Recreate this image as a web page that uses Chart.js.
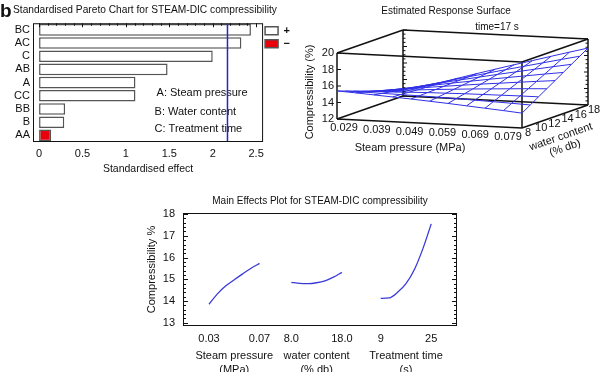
<!DOCTYPE html>
<html>
<head>
<meta charset="utf-8">
<script src="https://cdn.jsdelivr.net/npm/chart.js@4.4.1/dist/chart.umd.min.js"></script>
<style>
  html, body { margin: 0; padding: 0; background: #fff; }
  body { width: 600px; height: 372px; position: relative; overflow: hidden; }
  canvas { position: absolute; }
  #pareto { left: 0; top: 0; width: 300px; height: 178px; }
  #surface { left: 300px; top: 0; width: 300px; height: 172px; }
  #effects { left: 140px; top: 185px; width: 360px; height: 187px; }
</style>
</head>
<body>
<canvas id="pareto" width="300" height="178"></canvas>
<canvas id="surface" width="300" height="172"></canvas>
<canvas id="effects" width="360" height="187"></canvas>
<script>
"use strict";

// ---- Pareto chart data ----
var paretoTerms = ["BC", "AC", "C", "AB", "A", "CC", "BB", "B", "AA"];
var paretoEffects = [2.44, 2.33, 2.0, 1.48, 1.11, 1.11, 0.3, 0.29, 0.14];
var paretoSigns = ["+", "+", "+", "+", "+", "+", "+", "+", "-"];
var paretoTicks = [0, 0.5, 1, 1.5, 2, 2.5];
var criticalEffect = 2.17;
var factorKey = ["A: Steam pressure", "B: Water content", "C: Treatment time"];

// ---- Response surface data (time = 17 s) ----
var pressureGrid = [0.029, 0.034, 0.039, 0.044, 0.049, 0.054, 0.059, 0.064, 0.069, 0.074, 0.079];
var waterGrid = [8, 9.25, 10.5, 11.75, 13, 14.25, 15.5, 16.75, 18];
var surfaceZ = [
    [15.40, 15.28, 15.14, 15.00, 14.86, 14.70, 14.54, 14.36, 14.18, 14.00, 13.80],
    [15.04, 15.02, 14.98, 14.94, 14.90, 14.84, 14.78, 14.70, 14.62, 14.54, 14.44],
    [14.68, 14.76, 14.82, 14.88, 14.94, 14.98, 15.02, 15.04, 15.06, 15.08, 15.08],
    [14.31, 14.49, 14.65, 14.81, 14.97, 15.11, 15.25, 15.37, 15.49, 15.61, 15.71],
    [13.95, 14.23, 14.49, 14.75, 15.01, 15.25, 15.49, 15.71, 15.93, 16.15, 16.35],
    [13.59, 13.97, 14.33, 14.69, 15.05, 15.39, 15.73, 16.05, 16.37, 16.69, 16.99],
    [13.23, 13.71, 14.17, 14.63, 15.09, 15.53, 15.97, 16.39, 16.81, 17.23, 17.63],
    [12.86, 13.44, 14.00, 14.56, 15.12, 15.66, 16.20, 16.72, 17.24, 17.76, 18.26],
    [12.50, 13.18, 13.84, 14.50, 15.16, 15.80, 16.44, 17.06, 17.68, 18.30, 18.90],
];
var pressureTicks = ["0.029", "0.039", "0.049", "0.059", "0.069", "0.079"];
var waterTicks = [8, 10, 12, 14, 16, 18];
var zTicks = [12, 14, 16, 18, 20];

// ---- Main effects data ----
var factorNames = [["Steam pressure", "(MPa)"], ["water content", "(% db)"], ["Treatment time", "(s)"]];
var factorLow = ["0.03", "8.0", "9"];
var factorHigh = ["0.07", "18.0", "25"];
var steamEffect = [13.85, 14.33, 14.70, 14.98, 15.25, 15.51, 15.73];
var waterEffect = [14.86, 14.81, 14.80, 14.84, 14.93, 15.10, 15.32];
var timeEffect = [14.12, 14.14, 14.40, 14.80, 15.45, 16.40, 17.55];
var effectTicks = [13, 14, 15, 16, 17, 18];

var FONT = '"Liberation Sans", Arial, Helvetica, sans-serif';
Chart.defaults.font.family = FONT;
Chart.defaults.color = "#111";
Chart.defaults.animation = false;
Chart.defaults.plugins.tooltip.enabled = false;

// ================= Pareto =================
var paretoDecor = {
    id: "paretoDecor",
    afterDatasetsDraw: function (chart) {
        var ctx = chart.ctx, a = chart.chartArea, x = chart.scales.x;
        ctx.save();
        ctx.strokeStyle = "#111";
        ctx.lineWidth = 1;
        ctx.strokeRect(a.left + 0.5, a.top + 0.5, a.width - 1, a.height - 1);
        ctx.beginPath();
        for (var i = 0; i <= 25; i++) {
            var px = Math.round(x.getPixelForValue(i / 10)) + 0.5;
            ctx.moveTo(px, a.top);
            ctx.lineTo(px, a.top + (i % 5 === 0 ? 4 : 2.5));
        }
        ctx.stroke();

        ctx.fillStyle = "#111";
        ctx.font = "11px " + FONT;
        ctx.textBaseline = "middle";
        var keyX = x.getPixelForValue(1.33);
        var keyY = [70, 89, 106];
        factorKey.forEach(function (t, k) {
            ctx.fillText(t, keyX + (k === 0 ? 2 : 0), a.top + keyY[k]);
        });

        var cx = x.getPixelForValue(criticalEffect);
        ctx.strokeStyle = "#2424d0";
        ctx.lineWidth = 1.5;
        ctx.beginPath();
        ctx.moveTo(cx, a.top + 1);
        ctx.lineTo(cx, a.bottom - 1);
        ctx.stroke();

        ctx.font = "bold 19px " + FONT;
        ctx.textBaseline = "alphabetic";
        ctx.fillText("b", 0, 17);
        ctx.restore();
    },
};

new Chart(document.getElementById("pareto").getContext("2d"), {
    type: "bar",
    data: {
        labels: paretoTerms,
        datasets: [
            {
                label: "+",
                data: paretoEffects.map(function (v, i) { return paretoSigns[i] === "+" ? v : null; }),
                backgroundColor: "#ffffff",
                borderColor: "#555",
                borderWidth: 1.5,
                borderSkipped: false,
                grouped: false,
                barPercentage: 0.88,
                categoryPercentage: 1,
            },
            {
                label: "\u2212",
                data: paretoEffects.map(function (v, i) { return paretoSigns[i] === "-" ? v : null; }),
                backgroundColor: "#e8000b",
                borderColor: "#555",
                borderWidth: 1.5,
                borderSkipped: false,
                grouped: false,
                barPercentage: 0.88,
                categoryPercentage: 1,
            },
        ],
    },
    options: {
        responsive: false,
        indexAxis: "y",
        layout: { padding: { left: 13, right: 0, top: 0, bottom: 0 } },
        scales: {
            x: {
                min: -0.07,
                max: 2.58,
                afterBuildTicks: function (s) { s.ticks = paretoTicks.map(function (v) { return { value: v }; }); },
                afterFit: function (s) { s.height = 36; },
                grid: { display: false, drawTicks: false },
                border: { display: false },
                ticks: {
                    font: { size: 11 },
                    padding: 5,
                    autoSkip: false,
                    maxRotation: 0,
                    callback: function (v) { return String(v); },
                },
                title: { display: true, text: "Standardised effect", font: { size: 10.5 }, padding: { top: 0, bottom: 3 } },
            },
            y: {
                afterFit: function (s) { s.width = 20; },
                grid: { display: false, drawTicks: false },
                border: { display: false },
                ticks: { font: { size: 11 }, padding: 3, autoSkip: false },
            },
        },
        plugins: {
            title: {
                display: true,
                text: "Standardised Pareto Chart for STEAM-DIC compressibility",
                align: "start",
                font: { size: 10.2, weight: "normal" },
                padding: { top: 4, bottom: 7 },
            },
            legend: {
                display: true,
                position: "right",
                align: "start",
                fullSize: false,
                labels: { boxWidth: 13, boxHeight: 8, padding: 2, font: { size: 11, weight: "bold" } },
            },
        },
    },
    plugins: [paretoDecor],
});

// ================= Response surface =================
// oblique projection of (pressure, water, compressibility) onto the canvas plane
function project(p, w, z) {
    var u = (p - 0.029) / 0.05, v = (w - 8) / 10;
    return { x: 37 + 185 * u + 66 * v, y: 119 + 9 * u - 23 * v - (z - 12) * 8.25 };
}

var surfaceSets = [];
waterGrid.forEach(function (w, r) {
    surfaceSets.push(pressureGrid.map(function (p, c) { return project(p, w, surfaceZ[r][c]); }));
});
pressureGrid.forEach(function (p, c) {
    surfaceSets.push(waterGrid.map(function (w, r) { return project(p, w, surfaceZ[r][c]); }));
});

var boxEdges = [];
var pr = [0.029, 0.079], wr = [8, 18], zr = [12, 20];
[0, 1].forEach(function (a) {
    [0, 1].forEach(function (b) {
        boxEdges.push([project(pr[0], wr[a], zr[b]), project(pr[1], wr[a], zr[b])]);
        boxEdges.push([project(pr[a], wr[0], zr[b]), project(pr[a], wr[1], zr[b])]);
        boxEdges.push([project(pr[a], wr[b], zr[0]), project(pr[a], wr[b], zr[1])]);
    });
});

var surfaceDecor = {
    id: "surfaceDecor",
    afterDatasetsDraw: function (chart) {
        var ctx = chart.ctx, sx = chart.scales.x, sy = chart.scales.y;
        function P(p, w, z) {
            var q = project(p, w, z);
            return { x: sx.getPixelForValue(q.x), y: sy.getPixelForValue(q.y) };
        }
        ctx.save();
        ctx.strokeStyle = "#111";
        ctx.lineWidth = 1;
        ctx.beginPath();
        zTicks.forEach(function (z) {
            var q = P(0.029, 8, z);
            ctx.moveTo(q.x, q.y); ctx.lineTo(q.x + 4, q.y);
        });
        for (var k = 0; k <= 16; k++) {
            var z = 12 + k * 0.5, len = k % 4 === 0 ? 4 : 2.5;
            var q1 = P(0.029, 18, z), q2 = P(0.079, 18, z);
            ctx.moveTo(q1.x, q1.y); ctx.lineTo(q1.x + len, q1.y);
            ctx.moveTo(q2.x, q2.y); ctx.lineTo(q2.x - len, q2.y);
        }
        ctx.stroke();

        ctx.fillStyle = "#111";
        ctx.font = "11px " + FONT;
        ctx.textBaseline = "middle";
        ctx.textAlign = "right";
        zTicks.forEach(function (z) {
            var q = P(0.029, 8, z);
            ctx.fillText(String(z), q.x - 3, q.y);
        });
        ctx.textAlign = "center";
        pressureTicks.forEach(function (t, i) {
            var u = i / (pressureTicks.length - 1);
            var q = P(parseFloat(t), 8, 12);
            ctx.fillText(t, q.x + 7 - 21 * u, q.y + 9);
        });
        waterTicks.forEach(function (w) {
            var q = P(0.079, w, 12);
            ctx.fillText(String(w), q.x + 6, q.y + 5);
        });
        ctx.fillText("Steam pressure (MPa)", 110, 148);

        ctx.save();
        ctx.translate(261, 137);
        ctx.rotate(-19 * Math.PI / 180);
        ctx.fillText("water content", 0, 0);
        ctx.restore();
        ctx.save();
        ctx.translate(265, 148);
        ctx.rotate(-19 * Math.PI / 180);
        ctx.fillText("(% db)", 0, 0);
        ctx.restore();
        ctx.save();
        ctx.translate(10, 92);
        ctx.rotate(-Math.PI / 2);
        ctx.fillText("Compressibility (%)", 0, 0);
        ctx.restore();

        ctx.font = "10px " + FONT;
        ctx.fillText("Estimated Response Surface", 146, 11);
        ctx.fillText("time=17 s", 197, 27);
        ctx.restore();
    },
};

var surfaceDatasets = surfaceSets.map(function (pts) {
    return { data: pts, showLine: true, borderColor: "#2f2fe6", borderWidth: 1, pointRadius: 0, fill: false };
});
boxEdges.forEach(function (pts) {
    surfaceDatasets.push({ data: pts, showLine: true, borderColor: "#111", borderWidth: 1.5, pointRadius: 0, fill: false });
});

new Chart(document.getElementById("surface").getContext("2d"), {
    type: "scatter",
    data: { datasets: surfaceDatasets },
    options: {
        responsive: false,
        layout: { padding: 0 },
        scales: {
            x: { type: "linear", display: false, min: 0, max: 300 },
            y: { type: "linear", display: false, min: 0, max: 172, reverse: true },
        },
        plugins: { legend: { display: false } },
    },
    plugins: [surfaceDecor],
});

// ================= Main effects =================
var factorStart = [0, 1.63, 3.4];
var effectSeries = [steamEffect, waterEffect, timeEffect];
var lowHighPos = [], lowHighLabels = [], centerPos = [];
factorStart.forEach(function (s, f) {
    lowHighPos.push(s, s + 1);
    lowHighLabels.push(factorLow[f], factorHigh[f]);
    centerPos.push(s + 0.5);
});

var effectsDecor = {
    id: "effectsDecor",
    afterDatasetsDraw: function (chart) {
        var ctx = chart.ctx, a = chart.chartArea, y = chart.scales.y;
        ctx.save();
        ctx.strokeStyle = "#111";
        ctx.lineWidth = 1;
        ctx.strokeRect(a.left + 0.5, a.top + 0.5, a.width - 1, a.height - 1);
        ctx.beginPath();
        for (var i = 0; i <= 25; i++) {
            var py = Math.round(y.getPixelForValue(13 + i * 0.2)) + 0.5;
            var len = i % 5 === 0 ? 5 : 3;
            ctx.moveTo(a.left, py); ctx.lineTo(a.left + len, py);
            ctx.moveTo(a.right, py); ctx.lineTo(a.right - len, py);
        }
        ctx.stroke();
        ctx.restore();
    },
};

new Chart(document.getElementById("effects").getContext("2d"), {
    type: "scatter",
    data: {
        datasets: effectSeries.map(function (vals, f) {
            return {
                data: vals.map(function (v, i) { return { x: factorStart[f] + i / (vals.length - 1), y: v }; }),
                showLine: true,
                borderColor: "#3a3ad8",
                borderWidth: 1.3,
                pointRadius: 0,
                cubicInterpolationMode: "monotone",
            };
        }),
    },
    options: {
        responsive: false,
        layout: { padding: { left: 0, right: 43, top: 0, bottom: 0 } },
        scales: {
            x: {
                type: "linear",
                position: "bottom",
                weight: 0,
                min: -0.515,
                max: 4.91,
                afterBuildTicks: function (s) { s.ticks = lowHighPos.map(function (v) { return { value: v }; }); },
                afterFit: function (s) { s.height = 20; },
                grid: { display: false, drawTicks: false },
                border: { display: false },
                ticks: {
                    font: { size: 11 },
                    padding: 6,
                    autoSkip: false,
                    maxRotation: 0,
                    callback: function (v, i) { return lowHighLabels[i]; },
                },
            },
            x2: {
                type: "linear",
                position: "bottom",
                weight: 1,
                min: -0.515,
                max: 4.91,
                afterBuildTicks: function (s) { s.ticks = centerPos.map(function (v) { return { value: v }; }); },
                afterFit: function (s) { s.height = 26; },
                grid: { display: false, drawTicks: false },
                border: { display: false },
                ticks: {
                    font: { size: 11, lineHeight: 1.3 },
                    padding: 3,
                    autoSkip: false,
                    maxRotation: 0,
                    callback: function (v, i) { return factorNames[i]; },
                },
            },
            y: {
                min: 12.85,
                max: 18.05,
                afterBuildTicks: function (s) { s.ticks = effectTicks.map(function (v) { return { value: v }; }); },
                afterFit: function (s) { s.width = 43; },
                grid: { display: false, drawTicks: false },
                border: { display: false },
                ticks: { font: { size: 11 }, padding: 8 },
                title: { display: true, text: "Compressibility %", font: { size: 11 }, padding: { top: 5, bottom: 0 } },
            },
        },
        plugins: {
            legend: { display: false },
            title: {
                display: true,
                fullSize: false,
                text: "Main Effects Plot for STEAM-DIC compressibility",
                font: { size: 10, weight: "normal" },
                padding: { top: 10, bottom: 6 },
            },
        },
    },
    plugins: [effectsDecor],
});
</script>
</body>
</html>
